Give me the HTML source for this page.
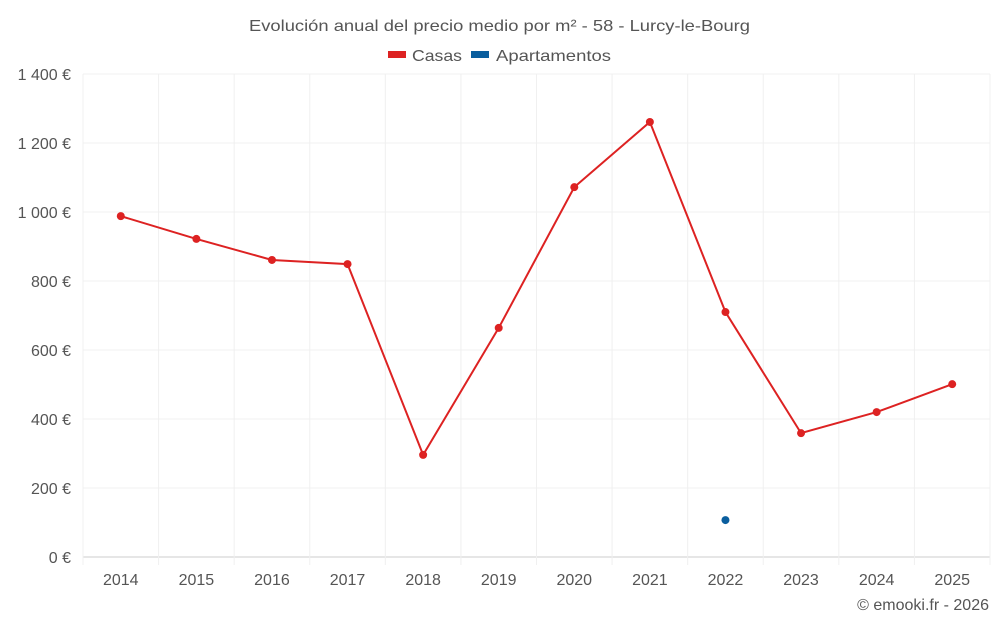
<!DOCTYPE html>
<html><head><meta charset="utf-8"><style>
body{margin:0;background:#fff;font-family:"Liberation Sans",sans-serif;}
svg text{font-family:"Liberation Sans",sans-serif;}
</style></head><body>
<svg id="chart" width="1000" height="625">
<text x="249" y="31" textLength="501" lengthAdjust="spacingAndGlyphs" font-size="16" fill="#555">Evolución anual del precio medio por m² - 58 - Lurcy-le-Bourg</text>
<g>
<g><rect x="388" y="51" width="18" height="7" fill="#dd2222"/><text x="412" y="61" textLength="50" lengthAdjust="spacingAndGlyphs" font-size="16" fill="#555">Casas</text></g>
<g><rect x="471" y="51" width="18" height="7" fill="#0a5e9e"/><text x="496" y="61" textLength="115" lengthAdjust="spacingAndGlyphs" font-size="16" fill="#555">Apartamentos</text></g>
</g>
<g id="grid"></g><g id="axes"></g><g id="series"></g>
<text x="989" y="610" text-anchor="end" font-size="16" fill="#555">© emooki.fr - 2026</text>
</svg>
<script>
const years=[2014,2015,2016,2017,2018,2019,2020,2021,2022,2023,2024,2025];
const casas=[988,922,861,849,296,664,1072,1261,710,359,420,501];
const apartamentos=[null,null,null,null,null,null,null,null,107,null,null,null];
const yTicks=[0,200,400,600,800,1000,1200,1400];
const yTickLabels=["0 €","200 €","400 €","600 €","800 €","1 000 €","1 200 €","1 400 €"];
const NS="http://www.w3.org/2000/svg";
const L=83,R=990,T=74,B=557,yMax=1400;
const step=(R-L)/years.length;
const x=i=>L+step*(i+0.5);
const y=v=>B-(v/yMax)*(B-T);
function mk(t,a,p){const e=document.createElementNS(NS,t);for(const k in a)e.setAttribute(k,a[k]);p.appendChild(e);return e;}
const grid=document.getElementById('grid'),axes=document.getElementById('axes'),ser=document.getElementById('series');
yTicks.forEach((v,i)=>{
 const l=mk('line',{x1:L,x2:R,y1:y(v),y2:y(v),stroke:v===0?'#ccc':'#f0f0f0'},grid);
 
 
 const t=mk('text',{x:71,y:y(v)+6,'text-anchor':'end','font-size':16,fill:'#555'},axes);
 t.textContent=yTickLabels[i];
 
 
});
for(let i=0;i<=years.length;i++){
 const l=mk('line',{x1:L+step*i,x2:L+step*i,y1:T,y2:B+8,stroke:'#f0f0f0'},grid);
 
 
}
years.forEach((yr,i)=>{
 const t=mk('text',{x:x(i),y:585,'text-anchor':'middle','font-size':16,fill:'#555'},axes);
 t.textContent=yr;
 
 
});
const pts=casas.map((v,i)=>v==null?null:[x(i),y(v)]).filter(p=>p);
const pl=mk('polyline',{points:pts.map(p=>p.join(',')).join(' '),fill:'none',stroke:'#dd2222','stroke-width':2},ser);


casas.forEach((v,i)=>{if(v==null)return;
 const c=mk('circle',{cx:x(i),cy:y(v),r:4,fill:'#dd2222'},ser);
 
 
});
apartamentos.forEach((v,i)=>{if(v==null)return;
 const c=mk('circle',{cx:x(i),cy:y(v),r:4,fill:'#0a5e9e'},ser);
 
 
});
</script>
</body></html>
